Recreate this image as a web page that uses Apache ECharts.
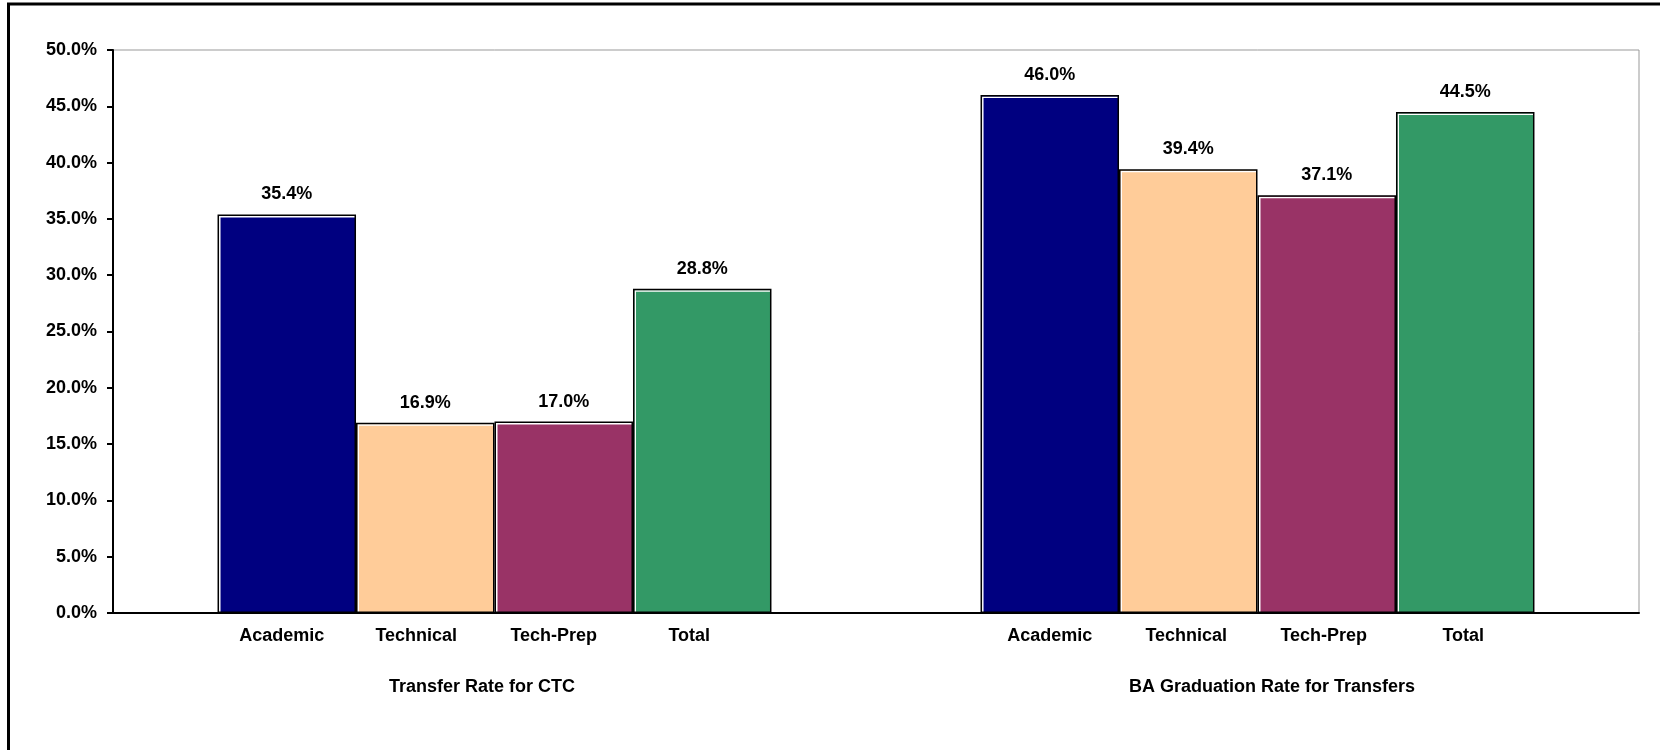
<!DOCTYPE html>
<html>
<head>
<meta charset="utf-8">
<script src="https://cdn.jsdelivr.net/npm/echarts@6/dist/echarts.min.js"></script>
<style>
html,body{margin:0;padding:0;background:#fff;}
#chart{width:1660px;height:750px;}
</style>
</head>
<body>
<div id="chart"></div>
<script>
const groups = ['Transfer Rate for CTC', 'BA Graduation Rate for Transfers'];
const seriesNames = ['Academic', 'Technical', 'Tech-Prep', 'Total'];
const academic = [35.4, 46.0];
const technical = [16.9, 39.4];
const techPrep = [17.0, 37.1];
const total = [28.8, 44.5];
const yTicks = [0, 5, 10, 15, 20, 25, 30, 35, 40, 45, 50];

const seriesValues = [academic, technical, techPrep, total];
const colors = ['#000080', '#FFCC99', '#993366', '#339966'];
const FONT = '"Liberation Sans", Arial, sans-serif';
// small horizontal nudges of the bar-name labels (style only)
const nameNudge = [[-5, 0], [-9, -2], [-10, -3], [-13, -2]];

const chart = echarts.init(document.getElementById('chart'), null, {renderer: 'canvas'});

const series = seriesNames.map((name, i) => ({
  name: name,
  type: 'bar',
  data: seriesValues[i],
  barGap: '0%',
  barCategoryGap: '27.4%',
  itemStyle: {
    color: colors[i], borderColor: '#000', borderWidth: 1.5,
    shadowColor: '#fff', shadowBlur: 0, shadowOffsetX: 1.5, shadowOffsetY: 1.5
  },
  label: {
    show: true, position: 'top', distance: 11,
    formatter: p => p.value.toFixed(1) + '%',
    color: '#000', fontFamily: FONT, fontWeight: 'bold', fontSize: 18
  },
  markPoint: {
    symbol: 'rect', symbolSize: 0, silent: true,
    label: {
      show: true, position: 'bottom', distance: 14,
      formatter: () => name,
      color: '#000', fontFamily: FONT, fontWeight: 'bold', fontSize: 18
    },
    data: groups.map((g, gi) => ({coord: [gi, 0], label: {offset: [nameNudge[i][gi], 0]}}))
  }
}));

chart.setOption({
  animation: false,
  backgroundColor: '#fff',
  grid: {
    left: 113, top: 50, right: 21, bottom: 137,
    show: true, borderColor: '#999', borderWidth: 1, backgroundColor: '#fff'
  },
  graphic: [{
    type: 'rect', silent: true, z: 100,
    shape: {x: 8.5, y: 4, width: 1700, height: 800},
    style: {fill: 'none', stroke: '#000', lineWidth: 3}
  }],
  xAxis: {
    type: 'category',
    data: groups,
    z: 5,
    axisLine: {show: true, lineStyle: {color: '#000', width: 2}},
    axisTick: {show: false},
    axisLabel: {
      margin: 65, color: '#000', fontFamily: FONT, fontWeight: 'bold', fontSize: 18,
      formatter: (v, idx) => idx === 0 ? '{a|' + v + '}' : '{b|' + v + '}',
      rich: {
        a: {color: '#000', fontFamily: FONT, fontWeight: 'bold', fontSize: 18, padding: [0, 25, 0, 0]},
        b: {color: '#000', fontFamily: FONT, fontWeight: 'bold', fontSize: 18, padding: [0, 0, 0, 29]}
      }
    }
  },
  yAxis: {
    type: 'value',
    z: 5,
    min: yTicks[0], max: yTicks[yTicks.length - 1], interval: yTicks[1] - yTicks[0],
    axisLine: {show: true, lineStyle: {color: '#000', width: 2}},
    axisTick: {show: true, inside: false, length: 6, lineStyle: {color: '#000', width: 2}},
    splitLine: {show: false},
    axisLabel: {
      margin: 16, color: '#000', fontFamily: FONT, fontWeight: 'bold', fontSize: 18,
      formatter: v => v.toFixed(1) + '%'
    }
  },
  series: series
});
</script>
</body>
</html>
